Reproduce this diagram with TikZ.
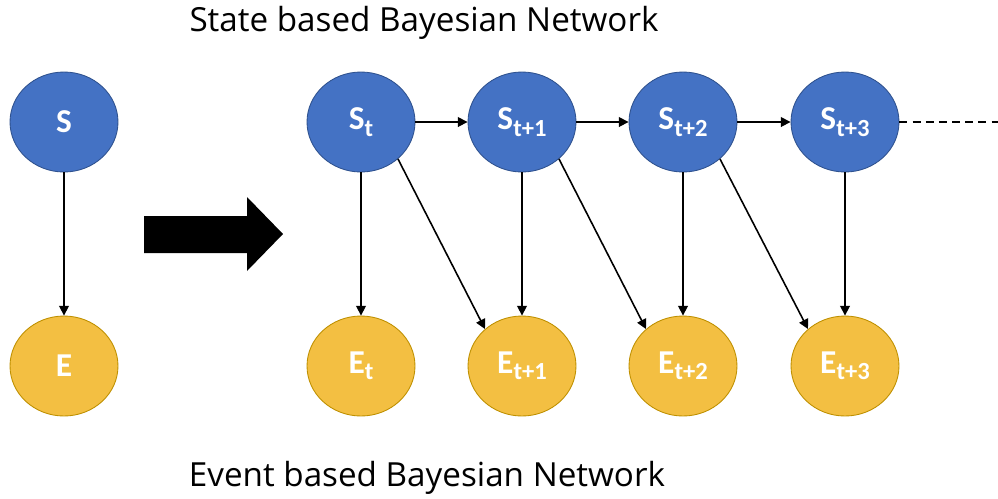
\documentclass[tikz,border=0pt]{standalone}
\usepackage{fontspec}
\setmainfont{Open Sans}
\newfontfamily\nodefont{Carlito}
\usetikzlibrary{arrows.meta,shapes.geometric}

\definecolor{stateblue}{HTML}{4472C4}
\definecolor{stateedge}{HTML}{2F528F}
\definecolor{eventgold}{HTML}{F3BF42}
\definecolor{eventedge}{HTML}{BF9000}

\newcommand{\lbl}[2]{#1\raisebox{-0.4ex}{\fontsize{14}{14}\selectfont #2}}

\tikzset{
  statenode/.style={ellipse, draw=stateedge, fill=stateblue, line width=0.5pt,
    minimum width=2.16cm, minimum height=2cm, inner sep=0pt,
    text=white, font=\nodefont\bfseries\fontsize{19}{19}\selectfont},
  eventnode/.style={statenode, draw=eventedge, fill=eventgold},
  link/.style={line width=0.9pt, -{Triangle[length=5.5pt,width=5.5pt]}}
}

\begin{document}
\begin{tikzpicture}[x=0.02cm, y=-0.02cm]
            \useasboundingbox (0,0) rectangle (998,498);

            % Titulos
            \node[anchor=base, font=\fontsize{18.9}{18.9}\selectfont] (titlestate) at (424,31) {State based Bayesian Network};
            \node[anchor=base, font=\fontsize{18.9}{18.9}\selectfont] (titleevent) at (427,486) {Event based Bayesian Network};

            % Modelo simple
            \node[statenode] (S) at (64,122) {S};
            \node[eventnode] (E) at (64,366) {E};
            \draw[link] (S) -- (E);

            % Flecha grande
            \fill[black] (144,216) -- (247,216) -- (247,197) -- (283,234) -- (247,271) -- (247,253) -- (144,253) -- cycle;

            % Estados
            \node[statenode] (St0) at (361,122) {\lbl{S}{t}};
            \node[statenode] (St1) at (522,122) {\lbl{S}{t+1}};
            \node[statenode] (St2) at (683,122) {\lbl{S}{t+2}};
            \node[statenode] (St3) at (845,122) {\lbl{S}{t+3}};

            % Eventos
            \node[eventnode] (Et0) at (361,366) {\lbl{E}{t}};
            \node[eventnode] (Et1) at (522,366) {\lbl{E}{t+1}};
            \node[eventnode] (Et2) at (683,366) {\lbl{E}{t+2}};
            \node[eventnode] (Et3) at (845,366) {\lbl{E}{t+3}};

            % Transiciones
            \draw[link] (St0) -- (St1);
            \draw[link] (St1) -- (St2);
            \draw[link] (St2) -- (St3);
            \coordinate (tail) at (998,122);
            \draw[line width=0.9pt, dash pattern=on 4.5pt off 3pt] (St3.east) -- (tail);

            % Observaciones
            \draw[link] (St0) -- (Et0);
            \draw[link] (St1) -- (Et1);
            \draw[link] (St2) -- (Et2);
            \draw[link] (St3) -- (Et3);
            \draw[link] (St0.-45) -- (Et1.135);
            \draw[link] (St1.-45) -- (Et2.135);
            \draw[link] (St2.-45) -- (Et3.135);
        \end{tikzpicture}
\end{document}
